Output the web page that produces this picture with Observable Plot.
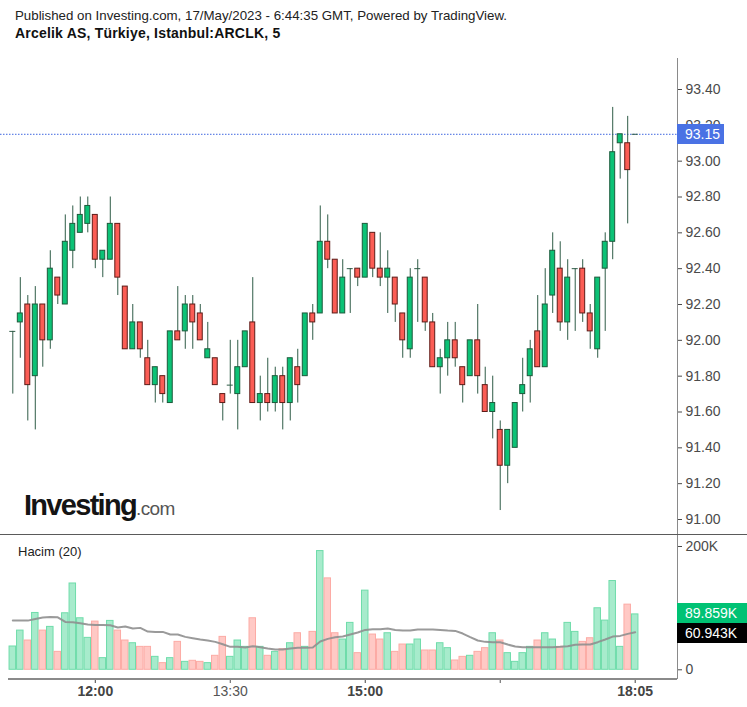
<!DOCTYPE html>
<html>
<head>
<meta charset="utf-8">
<script src="https://cdn.jsdelivr.net/npm/d3@7"></script>
<script src="https://cdn.jsdelivr.net/npm/@observablehq/plot@0.6"></script>
<style>
  body { margin: 0; background: #fff; }
  #root { position: relative; width: 747px; height: 707px; overflow: hidden; background: #fff;
          font-family: "Liberation Sans", Arial, sans-serif; }
  .abs { position: absolute; }
  .box { position: absolute; color: #fff; font-size: 14px; line-height: 20px; height: 20px; box-sizing: border-box; padding-left: 8px; }
</style>
</head>
<body>
<div id="root"></div>
<script>
// ---- Data ----
const openP  = [92.05,92.10,92.20,91.80,92.20,92.00,92.35,92.20,92.50,92.60,92.65,92.70,92.45,92.45,92.65,92.30,91.95,92.10,91.90,91.75,
                91.80,91.65,92.05,92.05,92.20,92.15,91.90,91.90,91.70,91.75,91.70,91.85,92.10,91.65,91.70,91.65,91.80,91.65,91.85,91.80,
                92.15,92.15,92.55,92.45,92.15,92.40,92.40,92.35,92.60,92.40,92.35,92.35,92.15,91.95,92.40,92.35,92.10,91.85,91.90,92.00,
                91.85,91.80,92.00,91.75,91.60,91.50,91.30,91.40,91.70,91.80,92.05,91.85,92.25,92.40,92.10,92.40,92.40,92.15,91.95,92.40,
                92.55,93.10,93.10,93.15];
const highP  = [92.05,92.35,92.25,92.30,92.20,92.50,92.35,92.70,92.75,92.80,92.80,92.70,92.50,92.80,92.65,92.30,92.20,92.10,92.00,91.85,
                91.80,92.05,92.30,92.25,92.25,92.20,92.10,91.90,91.70,92.00,92.00,92.05,92.35,91.80,91.90,91.85,91.85,91.90,91.95,92.15,
                92.20,92.75,92.70,92.45,92.45,92.40,92.40,92.65,92.60,92.60,92.50,92.35,92.15,92.40,92.45,92.35,92.15,91.95,92.10,92.10,
                91.85,92.00,92.20,91.85,91.80,91.55,91.50,91.65,91.90,92.00,92.25,92.40,92.60,92.55,92.45,92.40,92.45,92.20,92.35,92.60,
                93.30,93.15,93.25,93.15];
const lowP   = [91.70,91.90,91.55,91.50,91.85,91.95,92.20,92.20,92.40,92.60,92.60,92.40,92.35,92.45,92.25,91.95,91.95,91.90,91.75,91.65,
                91.65,91.65,92.00,91.95,91.95,92.00,91.90,91.75,91.55,91.70,91.50,91.85,91.65,91.55,91.60,91.60,91.50,91.55,91.65,91.80,
                92.00,92.15,92.40,92.15,92.15,92.15,92.30,92.35,92.35,92.30,92.15,92.10,91.90,91.90,92.10,92.05,91.85,91.70,91.80,91.85,
                91.65,91.80,91.70,91.60,91.45,91.05,91.20,91.40,91.60,91.65,91.85,91.85,92.15,92.05,92.00,92.05,92.10,91.95,91.90,92.05,
                92.45,92.90,92.65,93.15];
const closeP = [92.05,92.15,91.75,92.20,92.00,92.40,92.25,92.55,92.65,92.70,92.75,92.45,92.50,92.65,92.35,91.95,92.10,91.95,91.75,91.85,
                91.70,92.05,92.00,92.20,92.10,92.00,91.95,91.75,91.65,91.75,91.85,92.05,91.65,91.70,91.65,91.80,91.65,91.90,91.75,92.15,
                92.10,92.55,92.45,92.15,92.35,92.40,92.35,92.65,92.40,92.35,92.40,92.20,92.00,92.35,92.40,92.10,91.85,91.90,92.00,91.90,
                91.75,92.00,91.80,91.60,91.65,91.30,91.50,91.65,91.75,91.95,91.85,92.20,92.50,92.10,92.35,92.40,92.15,92.05,92.35,92.55,
                93.05,93.15,92.95,93.15];
// volume in thousands
const volumeK = [37.8,63.6,47.5,92.2,63.6,69.6,29.1,91.7,140.0,83.6,51.8,78.2,18.9,79.3,63.6,47.5,43.1,37.2,37.2,21.0,
                 10.8,18.9,45.3,12.9,14.6,12.9,10.8,22.7,53.4,21.0,47.5,37.2,83.6,37.2,22.7,29.1,33.4,43.1,59.3,37.2,
                 61.5,192.6,148.3,59.3,49.1,76.1,27.0,128.4,57.2,49.1,59.3,29.1,41.0,41.0,49.1,31.3,31.3,43.1,35.1,15.1,
                 21.0,22.7,29.1,35.1,59.3,47.5,27.0,12.9,27.0,37.2,47.5,59.3,49.1,37.2,76.1,61.5,45.3,51.2,99.8,79.8,
                 144.0,37.2,105.7,89.859];
// 20-period volume average (thousands)
const volumeMA = [79.8,79.8,79.8,82.5,84.7,85.8,85.2,77.7,77.1,75.5,73.4,72.8,72.8,72.3,68.5,70.1,66.9,68.0,62.0,61.5,
                  61.5,57.2,57.2,53.4,51.2,49.1,47.5,45.3,41.5,37.2,37.2,36.1,38.3,36.7,34.5,32.9,32.9,34.5,35.6,35.6,
                  36.1,45.8,50.2,52.9,53.9,57.2,60.4,64.7,65.8,65.8,66.9,64.7,63.6,63.6,65.3,65.3,65.3,64.7,63.6,63.1,
                  58.8,52.9,47.5,45.3,44.8,44.8,41.0,37.8,36.7,36.7,36.7,36.7,36.7,37.2,38.3,40.5,41.0,41.0,44.8,49.1,
                  53.9,55.0,58.3,60.943];
const timeTickIndex = [11, 29, 47, 65, 83];
const timeTickLabel = ["12:00", "13:30", "15:00", "", "18:05"];
const timeTickBold  = [true, false, true, false, true];
const priceTicks  = [91.0, 91.2, 91.4, 91.6, 91.8, 92.0, 92.2, 92.4, 92.6, 92.8, 93.0, 93.2, 93.4];
const volumeTicks = [0, 100, 200];
const lastPrice = 93.15;
const lastVolume = 89.859;
const lastVolumeMA = 60.943;
const titleText = "Published on Investing.com, 17/May/2023 - 6:44:35 GMT, Powered by TradingView.";
const subtitleText = "Arcelik AS, Türkiye, Istanbul:ARCLK, 5";
const volumeTitle = "Hacim (20)";

// ---- Build tables ----
const candles = openP.map((o, i) => ({i, o, h: highP[i], l: lowP[i], c: closeP[i]}));
const vols = volumeK.map((v, i) => ({i, v, ma: volumeMA[i], up: closeP[i] >= openP[i]}));

const GREEN = "#0cc276", GREEN_S = "#1c5a3b", RED = "#fb5d55", RED_S = "#5e1c18", WICK = "#2f5c47";
const FONT = "'Liberation Sans', Arial, sans-serif";
const W = 747, PRICE_TOP = 58, PRICE_H = 476, VOL_TOP = 535, VOL_H = 172;
const xScale = {domain: [0, 83], range: [12.3, 634.7]};

const root = document.getElementById("root");

// ---- Price pane ----
const priceChart = Plot.plot({
  width: W, height: PRICE_H,
  marginLeft: 0, marginRight: 70, marginTop: 0, marginBottom: 0,
  style: {fontFamily: FONT, background: "transparent", overflow: "visible"},
  x: {...xScale, axis: null},
  y: {domain: [91, 93.4], range: [461, 31], label: null},
  color: {type: "identity"},
  marks: [
    Plot.ruleY([lastPrice], {stroke: "#3f66e0", strokeDasharray: "1.5,1.5", strokeWidth: 1}),
    Plot.ruleX(candles, {x: "i", y1: "l", y2: "h", stroke: WICK, strokeWidth: 1}),
    Plot.rect(candles.filter(d => d.o !== d.c), {
      x1: d => d.i - 0.33, x2: d => d.i + 0.33,
      y1: d => Math.min(d.o, d.c), y2: d => Math.max(d.o, d.c),
      fill: d => d.c > d.o ? GREEN : RED,
      stroke: d => d.c > d.o ? GREEN_S : RED_S, strokeWidth: 1
    }),
    Plot.ruleY(candles.filter(d => d.o === d.c), {
      y: "c", x1: d => d.i - 0.4, x2: d => d.i + 0.4, stroke: WICK, strokeWidth: 1
    }),
    Plot.axisY(priceTicks, {anchor: "right", tickFormat: d => d.toFixed(2), tickSize: 4, tickPadding: 4,
      fontSize: 14, color: "#4a4a4a", label: null})
  ]
});
priceChart.style.position = "absolute";
priceChart.style.left = "0px";
priceChart.style.top = PRICE_TOP + "px";
root.appendChild(priceChart);

// ---- Volume pane ----
const volChart = Plot.plot({
  width: W, height: VOL_H,
  marginLeft: 0, marginRight: 70, marginTop: 0, marginBottom: 29,
  style: {fontFamily: FONT, background: "transparent", overflow: "visible"},
  x: {...xScale, label: null},
  y: {domain: [0, 200], range: [134.3, 11], label: null},
  color: {type: "identity"},
  marks: [
    Plot.rect(vols, {
      x1: d => d.i - 0.5, x2: d => d.i + 0.5, y1: d => 0, y2: "v",
      fill: d => d.up ? "#a7ebcc" : "#ffc9c5",
      stroke: d => d.up ? "#6fdcaa" : "#fcaba5", strokeWidth: 1,
      insetLeft: 0.5, insetRight: 0.5
    }),
    Plot.line(vols, {x: "i", y: "ma", stroke: "#8f8f8f", strokeWidth: 2, strokeOpacity: 0.9}),
    Plot.axisY(volumeTicks, {anchor: "right", tickFormat: d => d === 0 ? "0" : d + "K", tickSize: 4, tickPadding: 4,
      fontSize: 14, color: "#4a4a4a", label: null}),
    Plot.axisX(timeTickIndex.filter((d, k) => timeTickBold[k]), {anchor: "bottom",
      tickFormat: d => timeTickLabel[timeTickIndex.indexOf(d)], tickSize: 5, tickPadding: 3,
      fontSize: 14, fontWeight: "bold", color: "#444", label: null}),
    Plot.axisX(timeTickIndex.filter((d, k) => !timeTickBold[k]), {anchor: "bottom",
      tickFormat: d => timeTickLabel[timeTickIndex.indexOf(d)], tickSize: 5, tickPadding: 3,
      fontSize: 14, color: "#555", label: null})
  ]
});
volChart.style.position = "absolute";
volChart.style.left = "0px";
volChart.style.top = VOL_TOP + "px";
root.appendChild(volChart);

// ---- Frame lines ----
function line(l, t, w, h, c) {
  const d = document.createElement("div");
  d.className = "abs";
  Object.assign(d.style, {left: l + "px", top: t + "px", width: w + "px", height: h + "px", background: c});
  root.appendChild(d);
}
line(676.5, 58, 1.5, 621, "#8a8a8a");   // right axis
line(0, 534, 747, 1, "#5a5a5a");        // pane separator
line(8, 678, 669, 1.5, "#8a8a8a");      // bottom axis

// ---- Value labels on axes (positions from Plot scales) ----
function box(text, yCenter, bg, width) {
  const d = document.createElement("div");
  d.className = "box";
  d.textContent = text;
  Object.assign(d.style, {left: "677px", top: (yCenter - 10) + "px", width: width + "px", background: bg});
  root.appendChild(d);
  return d;
}
const yPrice = PRICE_TOP + priceChart.scale("y").apply(lastPrice);
box(lastPrice.toFixed(2), yPrice, "#4a72e4", 47);
const yVol = VOL_TOP + volChart.scale("y").apply(lastVolume);
box(lastVolume.toFixed(3) + "K", yVol - 0.5, "#00c274", 72);
box(lastVolumeMA.toFixed(3) + "K", yVol + 19.5, "#000", 72);

// ---- Texts ----
const txt = d3.create("svg").attr("width", W).attr("height", 707)
  .style("position", "absolute").style("left", 0).style("top", 0).style("pointer-events", "none")
  .style("font-family", FONT);
txt.append("text").attr("x", 15).attr("y", 20).attr("font-size", 13.3).attr("fill", "#222").text(titleText);
txt.append("text").attr("x", 15).attr("y", 38).attr("font-size", 14).attr("font-weight", "bold")
  .attr("letter-spacing", 0.2).attr("fill", "#111").text(subtitleText);
txt.append("text").attr("x", 18).attr("y", 556).attr("font-size", 13).attr("fill", "#222").text(volumeTitle);
const logo = txt.append("text").attr("x", 24).attr("y", 515);
logo.append("tspan").attr("font-size", 29).attr("font-weight", "bold").attr("letter-spacing", -1.7)
  .attr("fill", "#141414").text("Investing");
logo.append("tspan").attr("font-size", 19).attr("letter-spacing", -0.6).attr("fill", "#555").text(".com");
root.appendChild(txt.node());
</script>
</body>
</html>
